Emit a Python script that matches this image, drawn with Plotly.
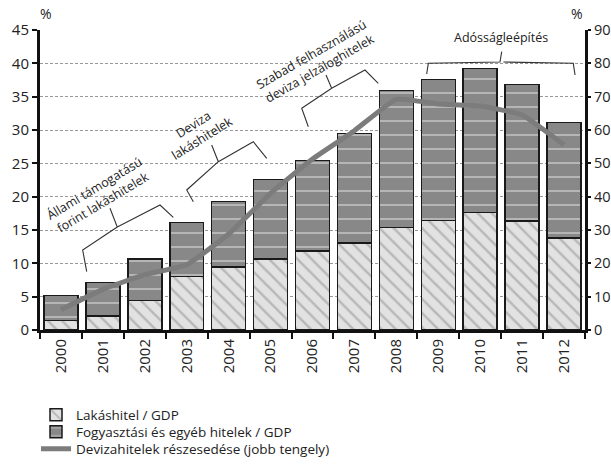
import plotly.graph_objects as go

years = ["2000", "2001", "2002", "2003", "2004", "2005", "2006",
         "2007", "2008", "2009", "2010", "2011", "2012"]
housing = [1.4, 2.1, 4.4, 8.05, 9.45, 10.65, 11.85, 13.05, 15.4, 16.4, 17.6, 16.35, 13.8]
consumer = [3.8, 5.0, 6.25, 8.05, 9.8, 11.95, 13.55, 16.4, 20.55, 21.15, 21.6, 20.5, 17.35]
fx_share = [6.1, 12.2, 16.6, 19.6, 28.8, 41.0, 51.3, 59.8, 69.2, 67.8, 67.2, 64.5, 55.5]

names = ["Lakáshitel / GDP", "Fogyasztási és egyéb hitelek / GDP",
         "Devizahitelek részesedése (jobb tengely)"]

FONT = "Open Sans"
L, R, T, B = 40, 26, 30, 145
W, H = 611, 475
PW, PH = W - L - R, H - T - B


def px(x):
    return (x - L) / PW


def py(y):
    return (H - B - y) / PH


fig = go.Figure()
fig.add_trace(go.Bar(
    x=years, y=housing, name=names[0], legend="legend",
    marker=dict(color="#e2e2e2", line=dict(color="#1a1a1a", width=1.5),
                pattern=dict(shape="\\", fgcolor="#8e8e8e", bgcolor="#e2e2e2",
                             size=10, solidity=0.25)),
))
fig.add_trace(go.Bar(
    x=years, y=consumer, name=names[1], legend="legend2",
    marker=dict(color="#888888", line=dict(color="#1a1a1a", width=1.5),
                pattern=dict(shape="-", fgcolor="#eeeeee", bgcolor="#888888",
                             size=14, solidity=0.13)),
))
fig.add_trace(go.Scatter(
    x=years, y=fx_share, name=names[2], yaxis="y2", mode="lines", legend="legend3",
    line=dict(color="#7c7c7c", width=5, shape="spline", smoothing=0.4),
))

# brackets (pixel coordinates of the reference converted to paper units)
brackets = [
    [(86.7, 271.7), (82.7, 250), (117.3, 227), (110, 208.3), (117.3, 227), (160, 205), (173.3, 217.3)],
    [(193.3, 201.7), (186.7, 190), (218.3, 161.7), (211.7, 145), (218.3, 161.7), (253.3, 141.7), (266.7, 158.3)],
    [(308.3, 126.7), (301.7, 108.3), (331.7, 88.3), (326, 75), (331.7, 88.3), (365, 70), (378.3, 83.3)],
    [(426.7, 74), (428.3, 63.3), (500, 62), (501.7, 51.7), (503.4, 62), (573.3, 63.3), (575, 75)],
]
shapes = []
for br in brackets:
    pts = [(px(a), py(b)) for a, b in br]
    path = "M{:.4f},{:.4f} L{:.4f},{:.4f} L{:.4f},{:.4f} L{:.4f},{:.4f} M{:.4f},{:.4f} L{:.4f},{:.4f} L{:.4f},{:.4f}".format(
        *[c for p in pts for c in p])
    shapes.append(dict(type="path", xref="paper", yref="paper", path=path,
                       line=dict(color="#333333", width=1.1)))

ann_font = dict(family=FONT, size=12.5, color="#222222")
annotations = [
    dict(text="Állami támogatású<br>forint lakáshitelek", x=px(98), y=py(195), textangle=-31),
    dict(text="Deviza<br>lakáshitelek", x=px(197), y=py(131), textangle=-32),
    dict(text="Szabad felhasználású<br>deviza jelzáloghitelek", x=px(315), y=py(61), textangle=-30),
    dict(text="Adósságleépítés", x=px(501), y=py(38), textangle=0),
]
for a in annotations:
    a.update(xref="paper", yref="paper", showarrow=False, xanchor="center",
             yanchor="middle", font=ann_font, align="center")
annotations += [
    dict(text="%", x=px(46), y=py(13), xref="paper", yref="paper", showarrow=False,
         xanchor="center", yanchor="middle", font=dict(family=FONT, size=14, color="#222")),
    dict(text="%", x=px(577), y=py(13), xref="paper", yref="paper", showarrow=False,
         xanchor="center", yanchor="middle", font=dict(family=FONT, size=14, color="#222")),
]

legend_common = dict(xanchor="left", yanchor="middle", traceorder="normal",
                     font=dict(family=FONT, size=13.5, color="#222"),
                     itemwidth=30, bgcolor="rgba(0,0,0,0)")

fig.update_layout(
    width=W, height=H,
    margin=dict(l=L, r=R, t=T, b=B, pad=0, autoexpand=False),
    paper_bgcolor="white", plot_bgcolor="white",
    barmode="stack", bargap=0.19,
    font=dict(family=FONT, size=15, color="#222222"),
    showlegend=True,
    legend=dict(x=px(36), y=py(415), **legend_common),
    legend2=dict(x=px(36), y=py(432), **legend_common),
    legend3=dict(x=px(36), y=py(449), **legend_common),
    xaxis=dict(type="category", showline=True, linecolor="#111", linewidth=3,
               ticks="outside", tickson="boundaries", ticklen=6, tickwidth=2,
               tickcolor="#111", tickangle=-90, showgrid=False, automargin=False,
               tickfont=dict(family=FONT, size=15, color="#222")),
    yaxis=dict(range=[0, 45], dtick=5, showline=True, linecolor="#111", linewidth=3,
               ticks="outside", ticklen=5, tickwidth=2, tickcolor="#111",
               showgrid=True, gridcolor="#999999", griddash="3px,2px", gridwidth=1,
               zeroline=False, automargin=False,
               tickfont=dict(family=FONT, size=15, color="#222")),
    yaxis2=dict(range=[0, 90], dtick=10, overlaying="y", side="right",
                showline=True, linecolor="#111", linewidth=3,
                ticks="outside", ticklen=3, tickwidth=2, tickcolor="#111",
                showgrid=False, zeroline=False, automargin=False,
                tickfont=dict(family=FONT, size=14.5, color="#222")),
    shapes=shapes,
    annotations=annotations,
)

fig.write_html(
    "out.html",
    config={"displayModeBar": False},
    post_script="document.body.style.margin='0';document.body.style.overflow='hidden';",
)
